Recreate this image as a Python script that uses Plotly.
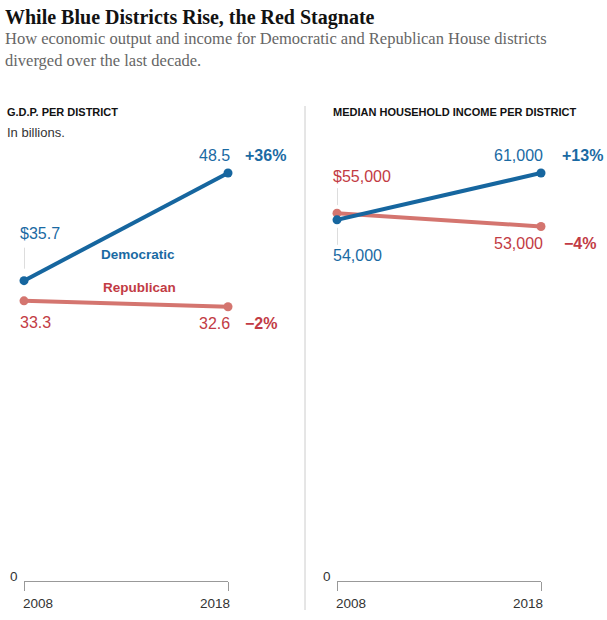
import plotly.graph_objects as go

# ---- data ----
years = [2008, 2018]
gdp_dem = [35.7, 48.5]
gdp_rep = [33.3, 32.6]
inc_dem = [54000, 61000]
inc_rep = [55000, 53000]
gdp_change = {"dem": "+36%", "rep": "\u22122%"}
inc_change = {"dem": "+13%", "rep": "\u22124%"}

W, H = 607, 620
BLUE_LINE = "#16669f"
BLUE_TEXT = "#1a6aa3"
RED_LINE = "#d4756f"
RED_TEXT = "#c23b44"
SANS = "Liberation Sans, Arial, sans-serif"
SERIF = "Liberation Serif, DejaVu Serif, serif"

def px(x):
    return x / W

def py(y):
    return 1 - y / H

y_zero_px = 581
y_top_px = 150
y_max_px = 173  # pixel of highest value

def yrange(maxval):
    return [0, maxval * (y_zero_px - y_top_px) / (y_zero_px - y_max_px)]

fig = go.Figure()

for xa, ya, dem, rep in [("x", "y", gdp_dem, gdp_rep), ("x2", "y2", inc_dem, inc_rep)]:
    fig.add_trace(go.Scatter(x=years, y=rep, mode="lines+markers", xaxis=xa, yaxis=ya,
                             line=dict(color=RED_LINE, width=4), marker=dict(size=9, color=RED_LINE),
                             cliponaxis=False, hoverinfo="skip", showlegend=False))
    fig.add_trace(go.Scatter(x=years, y=dem, mode="lines+markers", xaxis=xa, yaxis=ya,
                             line=dict(color=BLUE_LINE, width=4), marker=dict(size=9, color=BLUE_LINE),
                             cliponaxis=False, hoverinfo="skip", showlegend=False))

axis_common = dict(range=[2008, 2018], tickvals=years, showticklabels=False, showgrid=False,
                   zeroline=False, showline=True, linecolor="#999", linewidth=1,
                   ticks="outside", ticklen=9, tickcolor="#999", tickwidth=1)
yaxis_common = dict(showgrid=False, zeroline=False, showline=False, showticklabels=False, ticks="")

ydom = [py(y_zero_px), py(y_top_px)]
fig.update_layout(
    width=W, height=H, margin=dict(l=0, r=0, t=0, b=0),
    paper_bgcolor="white", plot_bgcolor="white",
    xaxis=dict(domain=[px(24), px(228)], anchor="y", **axis_common),
    xaxis2=dict(domain=[px(337), px(541)], anchor="y2", **axis_common),
    yaxis=dict(domain=ydom, range=yrange(max(gdp_dem + gdp_rep)), anchor="x", **yaxis_common),
    yaxis2=dict(domain=ydom, range=yrange(max(inc_dem + inc_rep)), anchor="x2", **yaxis_common),
)

ann = []

def pa(text, x, y, size, color, font=SANS, xanchor="left"):
    ann.append(dict(text=text, x=px(x), y=py(y), xref="paper", yref="paper",
                    xanchor=xanchor, yanchor="middle", showarrow=False,
                    font=dict(family=font, size=size, color=color)))

def da(text, xr, yr, x, y, xanchor, xshift, yshift, color, bold=False, size=16):
    ann.append(dict(text=f"<b>{text}</b>" if bold else text, x=x, y=y, xref=xr, yref=yr,
                    xanchor=xanchor, yanchor="middle", xshift=xshift, yshift=yshift, showarrow=False,
                    font=dict(family=SANS, size=size, color=color)))

# headings
pa("<b>While Blue Districts Rise, the Red Stagnate</b>", 3, 17, 20, "#121212", font=SERIF)
pa("How economic output and income for Democratic and Republican House districts", 3, 39, 16.5, "#666", font=SERIF)
pa("diverged over the last decade.", 3, 60, 16.5, "#666", font=SERIF)
pa("<b>G.D.P. PER DISTRICT</b>", 5, 112, 11, "#121212")
pa("In billions.", 5, 132, 13, "#333")
pa("<b>MEDIAN HOUSEHOLD INCOME PER DISTRICT</b>", 331, 112, 11, "#121212")

# left panel labels
da(f"${gdp_dem[0]:.1f}", "x", "y", years[0], gdp_dem[0], "left", -6, 47, BLUE_TEXT)
da(f"{gdp_dem[1]:.1f}", "x", "y", years[1], gdp_dem[1], "right", 4, 18, BLUE_TEXT)
da(gdp_change["dem"], "x", "y", years[1], gdp_dem[1], "left", 15, 18, BLUE_TEXT, bold=True, size=16)
da(f"{gdp_rep[0]:.1f}", "x", "y", years[0], gdp_rep[0], "left", -6, -22, RED_TEXT)
da(f"{gdp_rep[1]:.1f}", "x", "y", years[1], gdp_rep[1], "right", 4, -17, RED_TEXT)
da(gdp_change["rep"], "x", "y", years[1], gdp_rep[1], "left", 15, -17, RED_TEXT, bold=True, size=16)
pa("<b>Democratic</b>", 99, 254, 13.5, BLUE_TEXT)
pa("<b>Republican</b>", 101, 287, 13.5, RED_TEXT)

# right panel labels
da(f"${inc_rep[0]:,}", "x2", "y2", years[0], inc_rep[0], "left", -6, 37, RED_TEXT)
da(f"{inc_dem[0]:,}", "x2", "y2", years[0], inc_dem[0], "left", -6, -36, BLUE_TEXT)
da(f"{inc_dem[1]:,}", "x2", "y2", years[1], inc_dem[1], "right", 4, 18, BLUE_TEXT)
da(inc_change["dem"], "x2", "y2", years[1], inc_dem[1], "left", 19, 18, BLUE_TEXT, bold=True, size=16)
da(f"{inc_rep[1]:,}", "x2", "y2", years[1], inc_rep[1], "right", 4, -17, RED_TEXT)
da(inc_change["rep"], "x2", "y2", years[1], inc_rep[1], "left", 21, -17, RED_TEXT, bold=True, size=16)

# axis text
for x0, x1 in [(24, 228), (337, 541)]:
    pa("0", x0 - 16, 576, 13.5, "#333")
    pa("2008", x0 - 3, 603, 13.5, "#333")
    pa("2018", x1 + 4, 603, 13.5, "#333", xanchor="right")

fig.update_layout(annotations=ann)

shapes = [
    dict(type="line", xref="paper", yref="paper", x0=px(305), x1=px(305), y0=py(106), y1=py(610),
         line=dict(color="#ccc", width=1)),
    dict(type="line", xref="x", yref="y", ysizemode="pixel",
         x0=years[0], x1=years[0], yanchor=gdp_dem[0], y0=12, y1=33, line=dict(color="#bbb", width=1)),
    dict(type="line", xref="x2", yref="y2", ysizemode="pixel",
         x0=years[0], x1=years[0], yanchor=inc_rep[0], y0=8, y1=25, line=dict(color="#bbb", width=1)),
    dict(type="line", xref="x2", yref="y2", ysizemode="pixel",
         x0=years[0], x1=years[0], yanchor=inc_dem[0], y0=-8, y1=-25, line=dict(color="#bbb", width=1)),
]
fig.update_layout(shapes=shapes)

fig.write_html("out.html", config={"displayModeBar": False},
               post_script="document.body.style.margin='0px';")
